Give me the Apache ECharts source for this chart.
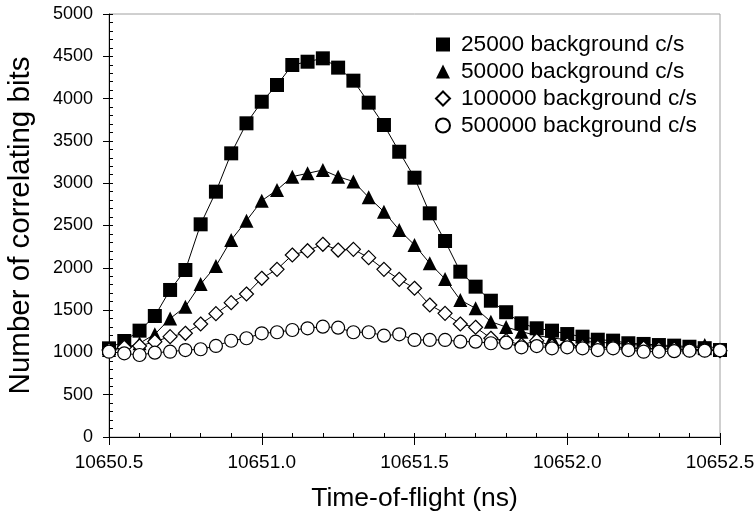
<!DOCTYPE html>
<html>
<head>
<meta charset="utf-8">
<script src="https://cdn.jsdelivr.net/npm/echarts@6/dist/echarts.min.js"></script>
<style>
html,body{margin:0;padding:0;background:#fff;}
#chart{width:754px;height:512px;}
</style>
</head>
<body>
<div id="chart"></div>
<script>
// Time-of-flight (ns) sample positions
var times = [10650.50,10650.55,10650.60,10650.65,10650.70,10650.75,10650.80,10650.85,10650.90,10650.95,
             10651.00,10651.05,10651.10,10651.15,10651.20,10651.25,10651.30,10651.35,10651.40,10651.45,
             10651.50,10651.55,10651.60,10651.65,10651.70,10651.75,10651.80,10651.85,10651.90,10651.95,
             10652.00,10652.05,10652.10,10652.15,10652.20,10652.25,10652.30,10652.35,10652.40,10652.45,10652.50];

var seriesNames = ["25000 background c/s","50000 background c/s","100000 background c/s","500000 background c/s"];

var bg25000 = [1048,1135,1257,1430,1738,1974,2514,2900,3353,3708,
               3963,4161,4397,4436,4476,4366,4212,3952,3688,3372,
               3065,2644,2317,1954,1777,1611,1475,1344,1285,1257,
               1217,1186,1150,1139,1108,1100,1087,1080,1067,1050,1028];

var bg50000 = [1028,1050,1108,1215,1400,1540,1808,2021,2329,2557,
               2793,2920,3077,3117,3156,3077,3020,2833,2663,2447,
               2270,2053,1868,1619,1521,1363,1300,1245,1200,1170,
               1150,1130,1120,1110,1095,1085,1070,1065,1060,1087,1035];

var bg100000 = [1028,1060,1076,1127,1186,1226,1336,1458,1588,1690,
                1876,1982,2151,2202,2278,2210,2218,2120,1982,1864,
                1758,1560,1462,1336,1297,1167,1139,1087,1139,1076,
                1090,1070,1060,1060,1050,1050,1040,1040,1030,1030,1020];

var bg500000 = [1008,989,969,997,1008,1028,1037,1076,1138,1167,
                1226,1238,1265,1285,1304,1292,1238,1238,1198,1214,
                1147,1147,1147,1127,1127,1108,1115,1060,1075,1048,
                1060,1048,1028,1048,1028,1008,1010,1015,1020,1020,1025];

var xTicks = [10650.5, 10651.0, 10651.5, 10652.0, 10652.5];
var yTicks = [0,500,1000,1500,2000,2500,3000,3500,4000,4500,5000];

function pairs(vals){ return times.map(function(t,i){ return [t, vals[i]]; }); }

var FONT = '"Liberation Sans", Arial, sans-serif';
var chart = echarts.init(document.getElementById('chart'), null, {renderer:'canvas'});

function mkSeries(name, vals, symbol, size, filled){
  return {
    name: name, type: 'line', data: pairs(vals),
    symbol: symbol, symbolSize: size, showAllSymbol: true,
    lineStyle: {color:'#000', width:1},
    itemStyle: {color: filled ? '#000' : '#fff', borderColor:'#000', borderWidth: filled ? 0 : 1.2},
    emphasis: {disabled:true}, animation:false, z: 3
  };
}

var option = {
  backgroundColor:'#fff',
  animation:false,
  grid: {left:109, right:34, top:14, bottom:75, show:true, borderColor:'#a0a0a0', borderWidth:1,
         backgroundColor:'transparent', containLabel:false, outerBoundsMode:'none'},
  legend: {
    orient:'vertical', left:430, top:28, itemWidth:14, itemHeight:14, itemGap:4,
    textStyle:{fontFamily:FONT, fontSize:22.7, color:'#000', padding:[0,0,0,6]},
    data: [
      {name:seriesNames[0], icon:'rect'},
      {name:seriesNames[1], icon:'triangle'},
      {name:seriesNames[2], icon:'diamond'},
      {name:seriesNames[3], icon:'circle'}
    ],
    selectedMode:false
  },
  xAxis: [{
    type:'value', min:10650.5, max:10652.5, interval:0.5, position:'bottom',
    axisLine:{show:true, onZero:false, lineStyle:{color:'#000', width:1}},
    axisTick:{show:true, inside:true, length:4, lineStyle:{color:'#000'}},
    minorTick:{show:true, splitNumber:5, length:4, lineStyle:{color:'#000'}},
    splitLine:{show:false},
    axisLabel:{show:true, margin:16, fontFamily:FONT, fontSize:19, color:'#000',
      formatter:function(v){ return v.toFixed(1); }},
    name:'Time-of-flight (ns)', nameLocation:'middle', nameGap:48,
    nameTextStyle:{fontFamily:FONT, fontSize:26.5, color:'#000'}
  },{
    type:'value', min:10650.5, max:10652.5, interval:0.5, position:'bottom',
    axisLine:{show:false}, axisTick:{show:true, inside:false, length:8, lineStyle:{color:'#000'}},
    axisLabel:{show:false}, splitLine:{show:false}
  }],
  yAxis: [{
    type:'value', min:0, max:5000, interval:500, position:'left',
    axisLine:{show:true, onZero:false, lineStyle:{color:'#000', width:1}},
    axisTick:{show:true, inside:true, length:4, lineStyle:{color:'#000'}},
    minorTick:{show:true, splitNumber:5, length:4, lineStyle:{color:'#000'}},
    splitLine:{show:false},
    axisLabel:{show:true, margin:16, fontFamily:FONT, fontSize:18, color:'#000',
      formatter:function(v){ return String(v); }},
    name:'Number of correlating bits', nameLocation:'middle', nameGap:73,
    nameTextStyle:{fontFamily:FONT, fontSize:29.5, color:'#000'}
  },{
    type:'value', min:0, max:5000, interval:500, position:'left',
    axisLine:{show:false}, axisTick:{show:true, inside:false, length:6, lineStyle:{color:'#000'}},
    axisLabel:{show:false}, splitLine:{show:false}
  }],
  series: [
    mkSeries(seriesNames[0], bg25000, 'rect', 14, true),
    mkSeries(seriesNames[1], bg50000, 'triangle', 14, true),
    mkSeries(seriesNames[2], bg100000, 'diamond', 14, false),
    mkSeries(seriesNames[3], bg500000, 'circle', 13, false)
  ]
};
chart.setOption(option);
</script>
</body>
</html>
